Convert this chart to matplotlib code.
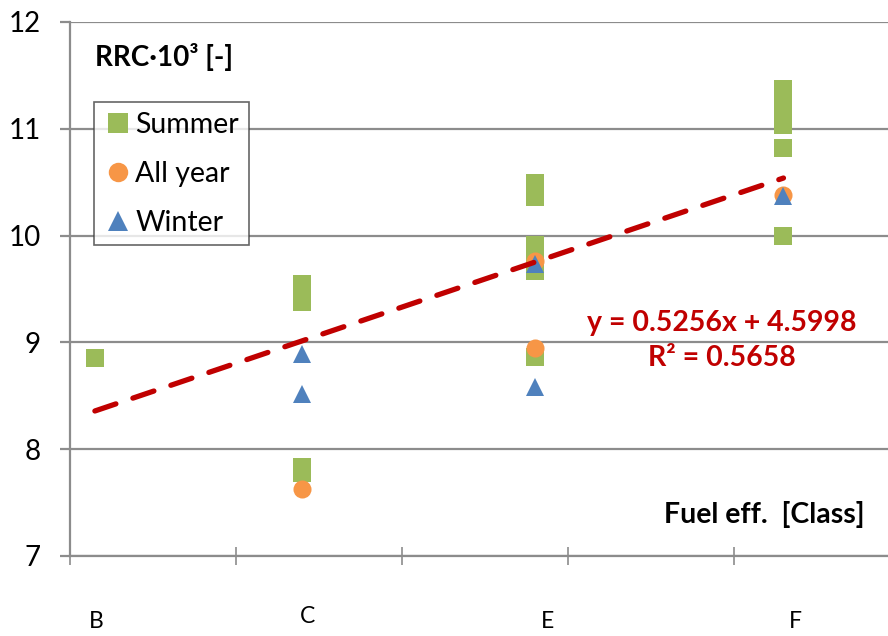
import matplotlib.pyplot as plt
from matplotlib.lines import Line2D

plt.rcParams['font.family'] = ['Lato', 'DejaVu Sans']

# fuel efficiency position of each class on the x axis
classes = ["B", "C", "E", "F"]
class_x = [7.15, 8.4, 9.8, 11.3]
label_x = [7.16, 8.43, 9.88, 11.37]
label_y = [-0.123, -0.114, -0.123, -0.123]

summer_x = [7.15, 8.4, 8.4, 8.4, 8.4, 8.4,
            9.8, 9.8, 9.8, 9.8, 9.8, 9.8,
            11.3, 11.3, 11.3, 11.3, 11.3]
summer_y = [8.85, 9.55, 9.47, 9.38, 7.83, 7.78,
            10.49, 10.36, 9.91, 9.79, 9.67, 8.86,
            11.37, 11.20, 11.04, 10.82, 10.00]

allyear_x = [8.4, 9.8, 9.8, 11.3]
allyear_y = [7.63, 9.76, 8.95, 10.38]

winter_x = [8.4, 8.4, 9.8, 9.8, 11.3]
winter_y = [8.89, 8.52, 9.73, 8.58, 10.37]

slope, intercept, r2 = 0.5256, 4.5998, 0.5658

fig = plt.figure(figsize=(8.88, 6.36), dpi=100)
ax = fig.add_axes([70 / 888, 1 - 556 / 636, 818 / 888, 534 / 636])

grid_c = "#8c8c8c"
ax.set_xlim(7, 11.93)
ax.set_ylim(7, 12)
ax.set_yticks(range(7, 13))
ax.set_xticks(range(7, 12))
ax.set_xticklabels([])
ax.yaxis.grid(True, color=grid_c, lw=1.6)
ax.set_axisbelow(True)
for s in ["top", "right"]:
    ax.spines[s].set_visible(False)
for s in ["left", "bottom"]:
    ax.spines[s].set_color(grid_c)
    ax.spines[s].set_linewidth(1.6)
ax.tick_params(axis="y", length=7, width=1.6, color=grid_c, labelsize=20, pad=14)
ax.tick_params(axis="x", direction="inout", length=13, width=1.2, color=grid_c)

ax.plot(summer_x, summer_y, ls="none", marker="s", ms=13.5, mew=0,
        color="#9BBB59", zorder=3)
ax.plot(allyear_x, allyear_y, ls="none", marker="o", ms=13, mew=0,
        color="#F79646", zorder=4)
ax.plot(winter_x, winter_y, ls="none", marker="^", ms=13, mew=0,
        color="#4F81BD", zorder=5)

# linear trend over the data range
all_x = summer_x + allyear_x + winter_x
x0, x1 = min(all_x), max(all_x)
ax.plot([x0, x1], [slope * x0 + intercept, slope * x1 + intercept],
        color="#C00000", lw=3.8, dashes=(4.2, 3.4), dash_capstyle="round", zorder=6)

fig.text(722 / 888, 1 - 323 / 636, f"y = {slope}x + {intercept}", color="#C00000",
         fontsize=20.5, fontweight="bold", ha="center", va="center")
fig.text(722 / 888, 1 - 358 / 636, f"R² = {r2}", color="#C00000",
         fontsize=20.5, fontweight="bold", ha="center", va="center")

fig.text(95 / 888, 1 - 57 / 636, "RRC·10³ [-]", fontsize=20, fontweight="bold",
         ha="left", va="center")
fig.text(865 / 888, 1 - 515 / 636, "Fuel eff.  [Class]", fontsize=20.5,
         fontweight="bold", ha="right", va="center")

for lx, ly, name in zip(label_x, label_y, classes):
    ax.text(lx, ly, name, transform=ax.get_xaxis_transform(),
            fontsize=16.5, ha="center", va="center")

handles = [
    Line2D([], [], ls="none", marker="s", ms=14, mew=0, color="#9BBB59"),
    Line2D([], [], ls="none", marker="o", ms=14, mew=0, color="#F79646"),
    Line2D([], [], ls="none", marker="^", ms=14, mew=0, color="#4F81BD"),
]
leg = ax.legend(handles, ["Summer", "All year", "Winter"], loc="upper left",
                bbox_to_anchor=((94 - 70) / 818, (556 - 102) / 534),
                fontsize=20.5, frameon=True, fancybox=False, handletextpad=0.1,
                handlelength=1.0, borderpad=0.35, labelspacing=0.8,
                borderaxespad=0)
leg.get_frame().set_edgecolor("#404040")
leg.get_frame().set_linewidth(1.2)

fig.savefig("out.png", dpi=100)
